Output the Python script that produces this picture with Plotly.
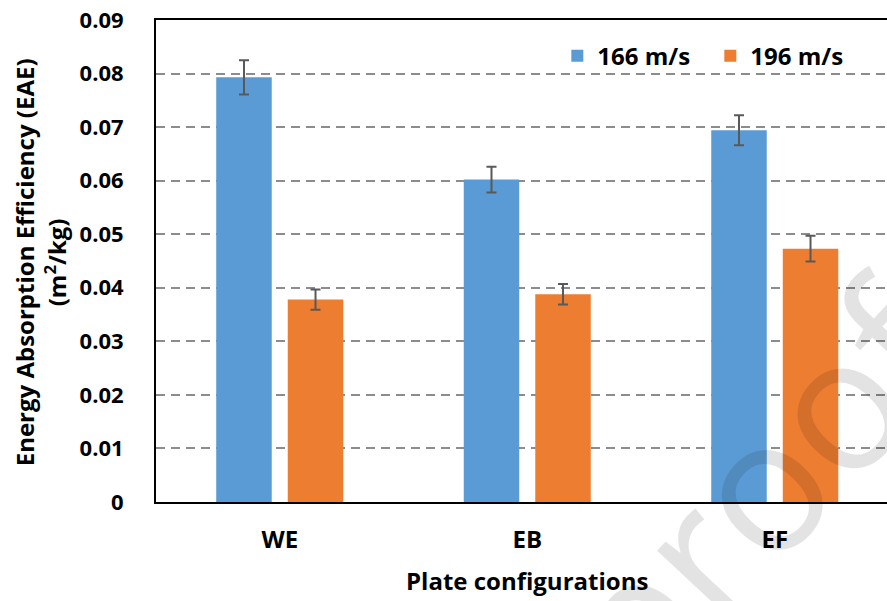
import plotly.graph_objects as go

# Plate configurations and measured energy absorption efficiency (m^2/kg)
configs = ["WE", "EB", "EF"]
eae_166 = [0.0793, 0.0602, 0.0694]
err_166 = [0.0032, 0.0024, 0.0028]
eae_196 = [0.0378, 0.0388, 0.0473]
err_196 = [0.0019, 0.0019, 0.0024]
y_ticks = [0, 0.01, 0.02, 0.03, 0.04, 0.05, 0.06, 0.07, 0.08, 0.09]
y_tick_labels = ["0", "0.01", "0.02", "0.03", "0.04", "0.05", "0.06", "0.07", "0.08", "0.09"]

FONT = "Open Sans"
BLUE = "#5B9BD5"
ORANGE = "#ED7D31"
ERR = "#595959"

fig = go.Figure()
fig.add_trace(go.Bar(
    x=configs, y=eae_166, name="166 m/s", marker=dict(color=BLUE, line=dict(width=0)),
    error_y=dict(type="data", array=err_166, color=ERR, thickness=2, width=5),
))
fig.add_trace(go.Bar(
    x=configs, y=eae_196, name="196 m/s", marker=dict(color=ORANGE, line=dict(width=0)),
    error_y=dict(type="data", array=err_196, color=ERR, thickness=2, width=5),
))

fig.update_layout(
    width=887, height=601,
    margin=dict(l=156, r=0, t=20, b=99, autoexpand=False),
    paper_bgcolor="white", plot_bgcolor="white",
    barmode="group", bargap=0.422, bargroupgap=0.224,
    font=dict(family=FONT, color="black"),
    showlegend=True,
    legend=dict(
        orientation="h", x=0.549, y=0.925, xanchor="left", yanchor="middle",
        font=dict(family=FONT, size=24, weight="bold"),
        bgcolor="rgba(0,0,0,0)", itemwidth=30, entrywidth=108, entrywidthmode="pixels",
    ),
)

fig.update_xaxes(
    range=[-0.5, 2.4535], showline=True, linecolor="black", linewidth=2, mirror=True,
    showgrid=False, ticks="", ticklabelstandoff=15,
    tickfont=dict(family=FONT, size=24, weight="bold"),
)
fig.update_yaxes(
    range=[0, 0.09], tickvals=y_ticks, ticktext=y_tick_labels,
    showline=True, linecolor="black", linewidth=2, mirror=False,
    showgrid=True, gridcolor="#8c8c8c", gridwidth=2, griddash="9px,6px",
    zeroline=False, ticks="", ticklabelstandoff=26,
    tickfont=dict(family=FONT, size=22, weight="bold"),
)

# Axis titles
fig.add_annotation(
    xref="paper", yref="paper", x=-0.1575, y=0.497, xanchor="center", yanchor="middle",
    text="Energy Absorption Efficiency (EAE)<br>(m<sup>2</sup>/kg)", textangle=-90,
    showarrow=False, font=dict(family=FONT, size=24, weight="bold"),
)
fig.add_annotation(
    xref="paper", yref="paper", x=0.507, y=-0.162, xanchor="center", yanchor="middle",
    text="Plate configurations", showarrow=False,
    font=dict(family=FONT, size=24, weight="bold"),
)

# Watermark
fig.add_annotation(
    xref="paper", yref="paper", x=0.339, y=-0.747, xanchor="center", yanchor="middle",
    text="Journal Pre-proof", textangle=-47, showarrow=False,
    font=dict(family=FONT, size=185, color="rgba(0,0,0,0.11)"),
)

fig.write_html("out.html")
